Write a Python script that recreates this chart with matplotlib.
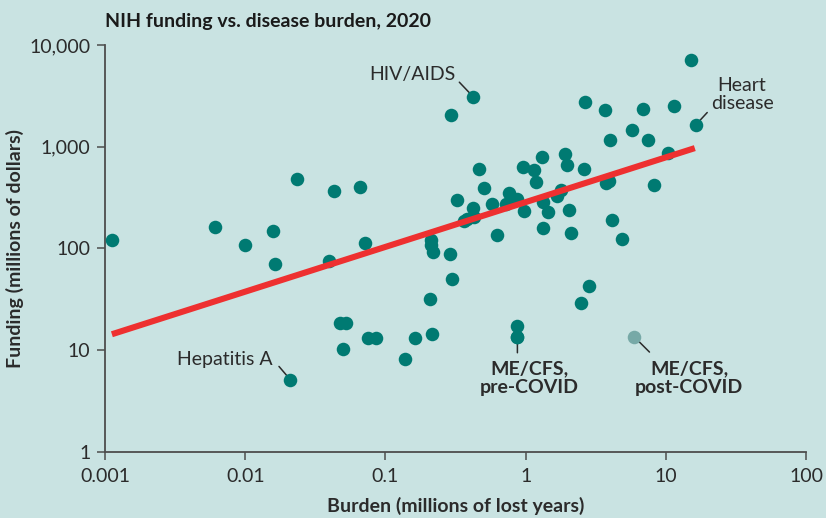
import matplotlib
matplotlib.use("Agg")
import matplotlib.pyplot as plt

plt.rcParams['font.family'] = ['Lato', 'DejaVu Sans']

# burden (millions of lost years) and funding (millions of dollars)
burden = [0.00113, 0.0061, 0.010, 0.0159, 0.0163, 0.0235, 0.043, 0.066, 0.072,
          0.0395, 0.0476, 0.0526, 0.050, 0.0754, 0.0856, 0.137, 0.163,
          0.211, 0.212, 0.217, 0.290, 0.297, 0.209, 0.216, 0.867, 0.874,
          2.83, 2.48, 0.296, 0.324, 0.467, 0.506, 0.425, 0.365, 0.380,
          0.430, 0.580, 0.763, 0.726, 0.874, 0.968, 0.630, 0.963, 1.14,
          1.19, 1.31, 1.33, 1.45, 1.34, 1.78, 1.68, 1.91, 1.97, 2.04, 2.12,
          2.63, 3.72, 3.93, 4.11, 4.86, 2.64, 3.70, 6.86, 11.5, 15.2,
          5.73, 4.0, 7.44, 10.4, 8.25]
funding = [120, 164, 108, 148, 71, 480, 365, 398, 112,
           75, 18.3, 18.3, 10.2, 13.2, 13.2, 8.2, 13.2,
           120, 108, 93, 89, 50, 32, 14.3, 17.3, 13.5,
           43, 28.8, 2060, 298, 600, 390, 249, 184, 193,
           202, 272, 348, 272, 308, 231, 134, 638, 592,
           448, 800, 289, 228, 158, 379, 324, 846, 656, 239, 141,
           606, 441, 462, 190, 125, 2750, 2300, 2340, 2500, 7200,
           1470, 1160, 1160, 865, 419]

# labelled diseases
hiv = (0.423, 3100)
heart = (16.3, 1630)
hep_a = (0.021, 5.1)
mecfs_pre = (0.874, 13.5)
mecfs_post = (5.95, 13.5)

# fitted trend line end points
trend_x = [0.00112, 16.1]
trend_y = [14.3, 969]

x_ticks = [0.001, 0.01, 0.1, 1, 10, 100]
x_labels = ['0.001', '0.01', '0.1', '1', '10', '100']
y_ticks = [1, 10, 100, 1000, 10000]
y_labels = ['1', '10', '100', '1,000', '10,000']

bg = '#c9e3e2'
teal = '#007a72'
dark = '#2b2b2b'

fig = plt.figure(figsize=(8.26, 5.18), dpi=100, facecolor=bg)
ax = fig.add_axes([0.1271, 0.128, 0.8487, 0.785])
ax.set_facecolor(bg)

pts = [hiv, heart, hep_a, mecfs_pre]
ax.scatter(burden + [p[0] for p in pts], funding + [p[1] for p in pts],
           s=95, color=teal, linewidths=0, zorder=3)
ax.scatter([mecfs_post[0]], [mecfs_post[1]], s=95, color='#77a9a7',
           linewidths=0, zorder=3)
ax.plot(trend_x, trend_y, color='#ee3030', lw=4.4, solid_capstyle='butt', zorder=4)

ax.set_xscale('log')
ax.set_yscale('log')
ax.set_xlim(0.001, 100)
ax.set_ylim(1, 10000)
ax.set_xticks(x_ticks)
ax.set_xticklabels(x_labels)
ax.set_yticks(y_ticks)
ax.set_yticklabels(y_labels)
ax.minorticks_off()

for s in ['top', 'right']:
    ax.spines[s].set_visible(False)
for s in ['left', 'bottom']:
    ax.spines[s].set_color('#4d4d4d')
    ax.spines[s].set_linewidth(1.3)
ax.tick_params(length=5.5, width=1.1, color='#4d4d4d', labelsize=14,
               labelcolor=dark, pad=5)
ax.tick_params(axis='x', pad=6)

ax.set_xlabel('Burden (millions of lost years)', fontsize=14, fontweight='bold', color=dark)
ax.set_ylabel('Funding (millions of dollars)', fontsize=14, fontweight='bold', color=dark)
ax.xaxis.set_label_coords(0.5, -0.11)
ax.yaxis.set_label_coords(-0.115, 0.5)

ax.text(0.0, 1.0435, 'NIH funding vs. disease burden, 2020', transform=ax.transAxes,
        fontsize=14, fontweight='bold', color='#1a1a1a', ha='left', va='baseline')

line_kw = dict(arrowstyle='-', color=dark, lw=1.1, shrinkA=0, shrinkB=4)
txt_kw = dict(fontsize=14, color=dark)

# HIV/AIDS
ax.annotate('', xy=hiv, xytext=(-10, 10.5), textcoords='offset points', arrowprops=line_kw, zorder=2)
ax.annotate('HIV/AIDS', xy=hiv, xytext=(-13, 12), textcoords='offset points',
            ha='right', va='baseline', **txt_kw)
# Heart disease
ax.annotate('', xy=heart, xytext=(8.4, 9.1), textcoords='offset points', arrowprops=line_kw, zorder=2)
ax.annotate('Heart\ndisease', xy=heart, xytext=(33.5, 35), textcoords='offset points',
            ha='center', va='top', multialignment='center', linespacing=1.12, **txt_kw)
# Hepatitis A
ax.annotate('', xy=hep_a, xytext=(-8.2, 9.6), textcoords='offset points', arrowprops=line_kw, zorder=2)
ax.annotate('Hepatitis A', xy=hep_a, xytext=(-12.7, 10.8), textcoords='offset points',
            ha='right', va='baseline', **txt_kw)
# ME/CFS pre-COVID
ax.annotate('', xy=mecfs_pre, xytext=(0, -11.5), textcoords='offset points', arrowprops=line_kw, zorder=2)
ax.annotate('ME/CFS,\npre-COVID', xy=mecfs_pre, xytext=(8.4, -17), textcoords='offset points',
            ha='center', va='top', multialignment='center', linespacing=1.1,
            fontweight='bold', **txt_kw)
# ME/CFS post-COVID
ax.annotate('', xy=mecfs_post, xytext=(11, -11), textcoords='offset points', arrowprops=line_kw, zorder=2)
ax.annotate('ME/CFS,\npost-COVID', xy=mecfs_post, xytext=(39.6, -17), textcoords='offset points',
            ha='center', va='top', multialignment='center', linespacing=1.1,
            fontweight='bold', **txt_kw)

fig.savefig('out.png', dpi=100, facecolor=bg)
